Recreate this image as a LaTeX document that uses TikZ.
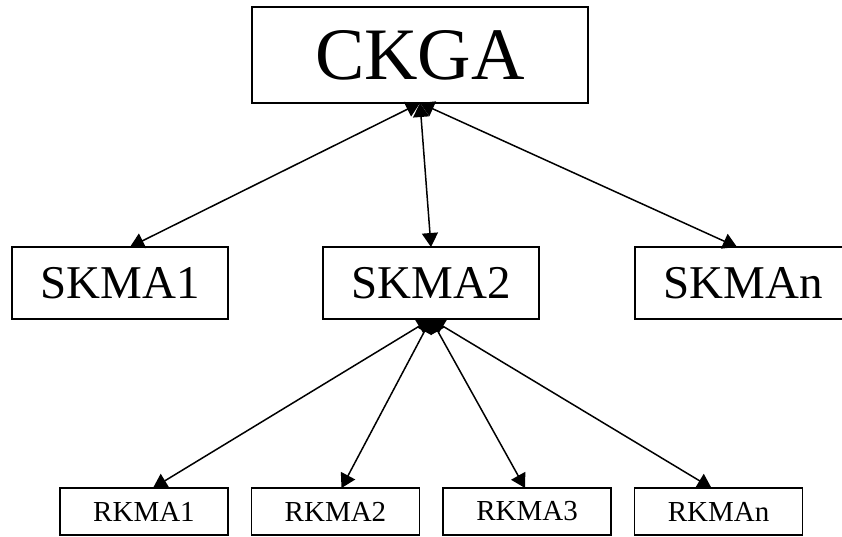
\documentclass[tikz,border=0pt]{standalone}
\usepackage{fontspec}
\setmainfont{Liberation Serif}
\usepackage{tikz}
\usetikzlibrary{arrows.meta, positioning}

\begin{document}
\begin{tikzpicture}[
    x=1pt, y=-1pt,
    node distance=95pt and 95pt,
    box/.style={draw, rectangle, line width=1.7pt, inner sep=0pt, outer sep=0pt, align=center},
    topbox/.style={box, minimum width=336pt, minimum height=96pt, font=\fontsize{74}{74}\selectfont},
    midbox/.style={box, minimum width=216pt, minimum height=72pt, font=\fontsize{47}{47}\selectfont},
    lowbox/.style={box, minimum width=168pt, minimum height=47pt, font=\fontsize{29}{29}\selectfont},
    arrow/.style={{Triangle[length=14pt,width=16pt]}-{Triangle[length=14pt,width=16pt]}, line width=1.5pt}
]
\useasboundingbox (0,0) rectangle (842,536);
\node[topbox] (ckga) at (420,55) {CKGA};
\node[midbox] (skma1) at (120,283) {SKMA1};
\node[midbox, right=95pt of skma1] (skma2) {SKMA2};
\node[midbox, right=96pt of skma2] (skman) {SKMAn};
\node[lowbox] (rkma1) at (144,511.5) {RKMA1};
\node[lowbox, right=23.5pt of rkma1] (rkma2) {RKMA2};
\node[lowbox, right=23.5pt of rkma2] (rkma3) {RKMA3};
\node[lowbox, right=23.5pt of rkma3] (rkman) {RKMAn};
\draw[arrow] (ckga.south) -- ([xshift=10pt]skma1.north);
\draw[arrow] (ckga.south) -- (skma2.north);
\draw[arrow] (ckga.south) -- ([xshift=-6pt]skman.north);
\draw[arrow] (skma2.south) -- ([xshift=9pt]rkma1.north);
\draw[arrow] (skma2.south) -- ([xshift=6pt]rkma2.north);
\draw[arrow] (skma2.south) -- ([xshift=-2pt]rkma3.north);
\draw[arrow] (skma2.south) -- ([xshift=-7pt]rkman.north);
\end{tikzpicture}
\end{document}
